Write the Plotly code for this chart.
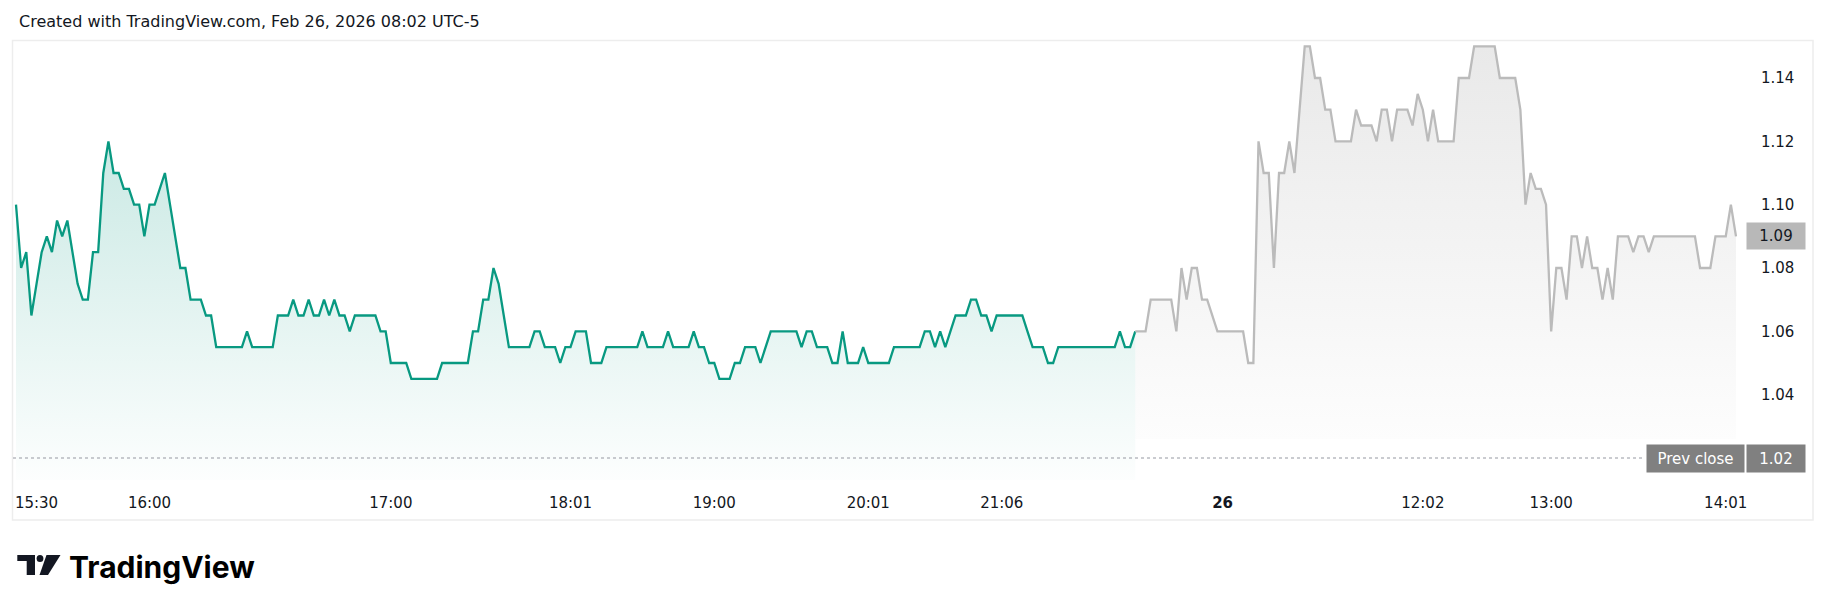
import numpy as np
import plotly.graph_objects as pgo

# prices, one per bar, equally spaced (index axis)
session_prices = [
    1.10, 1.08, 1.085, 1.065, 1.075, 1.085, 1.09, 1.085, 1.095, 1.09,
    1.095, 1.085, 1.075, 1.07, 1.07, 1.085, 1.085, 1.11, 1.12, 1.11,
    1.11, 1.105, 1.105, 1.10, 1.10, 1.09, 1.10, 1.10, 1.105, 1.11,
    1.10, 1.09, 1.08, 1.08, 1.07, 1.07, 1.07, 1.065, 1.065, 1.055,
    1.055, 1.055, 1.055, 1.055, 1.055, 1.06, 1.055, 1.055, 1.055, 1.055,
    1.055, 1.065, 1.065, 1.065, 1.07, 1.065, 1.065, 1.07, 1.065, 1.065,
    1.07, 1.065, 1.07, 1.065, 1.065, 1.06, 1.065, 1.065, 1.065, 1.065,
    1.065, 1.06, 1.06, 1.05, 1.05, 1.05, 1.05, 1.045, 1.045, 1.045,
    1.045, 1.045, 1.045, 1.05, 1.05, 1.05, 1.05, 1.05, 1.05, 1.06,
    1.06, 1.07, 1.07, 1.08, 1.075, 1.065, 1.055, 1.055, 1.055, 1.055,
    1.055, 1.06, 1.06, 1.055, 1.055, 1.055, 1.05, 1.055, 1.055, 1.06,
    1.06, 1.06, 1.05, 1.05, 1.05, 1.055, 1.055, 1.055, 1.055, 1.055,
    1.055, 1.055, 1.06, 1.055, 1.055, 1.055, 1.055, 1.06, 1.055, 1.055,
    1.055, 1.055, 1.06, 1.055, 1.055, 1.05, 1.05, 1.045, 1.045, 1.045,
    1.05, 1.05, 1.055, 1.055, 1.055, 1.05, 1.055, 1.06, 1.06, 1.06,
    1.06, 1.06, 1.06, 1.055, 1.06, 1.06, 1.055, 1.055, 1.055, 1.05,
    1.05, 1.06, 1.05, 1.05, 1.05, 1.055, 1.05, 1.05, 1.05, 1.05,
    1.05, 1.055, 1.055, 1.055, 1.055, 1.055, 1.055, 1.06, 1.06, 1.055,
    1.06, 1.055, 1.06, 1.065, 1.065, 1.065, 1.07, 1.07, 1.065, 1.065,
    1.06, 1.065, 1.065, 1.065, 1.065, 1.065, 1.065, 1.06, 1.055, 1.055,
    1.055, 1.05, 1.05, 1.055, 1.055, 1.055, 1.055, 1.055, 1.055, 1.055,
    1.055, 1.055, 1.055, 1.055, 1.055, 1.06, 1.055, 1.055, 1.06,
]

extended_prices = [
    1.06, 1.06, 1.07, 1.07, 1.07, 1.07, 1.07, 1.06, 1.08, 1.07,
    1.08, 1.08, 1.07, 1.07, 1.065, 1.06, 1.06, 1.06, 1.06, 1.06,
    1.06, 1.05, 1.05, 1.12, 1.11, 1.11, 1.08, 1.11, 1.11, 1.12,
    1.11, 1.13, 1.15, 1.15, 1.14, 1.14, 1.13, 1.13, 1.12, 1.12,
    1.12, 1.12, 1.13, 1.125, 1.125, 1.125, 1.12, 1.13, 1.13, 1.12,
    1.13, 1.13, 1.13, 1.125, 1.135, 1.13, 1.12, 1.13, 1.12, 1.12,
    1.12, 1.12, 1.14, 1.14, 1.14, 1.15, 1.15, 1.15, 1.15, 1.15,
    1.14, 1.14, 1.14, 1.14, 1.13, 1.10, 1.11, 1.105, 1.105, 1.10,
    1.06, 1.08, 1.08, 1.07, 1.09, 1.09, 1.08, 1.09, 1.08, 1.08,
    1.07, 1.08, 1.07, 1.09, 1.09, 1.09, 1.085, 1.09, 1.09, 1.085,
    1.09, 1.09, 1.09, 1.09, 1.09, 1.09, 1.09, 1.09, 1.09, 1.08,
    1.08, 1.08, 1.09, 1.09, 1.09, 1.10, 1.09,
]

prev_close = 1.02

time_tick_bars = [4, 26, 73, 108, 136, 166, 192, 235, 274, 299, 333]
time_tick_labels = ['15:30', '16:00', '17:00', '18:01', '19:00', '20:01',
                    '21:06', '<b>26</b>', '12:02', '13:00', '14:01']
price_ticks = [1.04, 1.06, 1.08, 1.10, 1.12, 1.14]

TITLE = 'Created with TradingView.com, Feb 26, 2026 08:02 UTC-5'

# page geometry in pixels (page coordinates; the html body adds an 8px margin)
W, H = 1830, 611
BODY_MARGIN = 8
PLOT_L, PLOT_R, PLOT_T, PLOT_B = 13, 1745, 41, 480
EXT_FILL_FLOOR = 1.026

GREEN = '#089981'
GREY = '#BBBBBB'
TEXT = '#131722'
FONT = 'DejaVu Sans'


def px(x):
    return (x - PLOT_L) / (PLOT_R - PLOT_L)


def py(y):
    return (PLOT_B - y) / (PLOT_B - PLOT_T)


n_session = len(session_prices)
n_total = n_session + len(extended_prices)
session_x = np.arange(n_session)
ext_x = np.arange(n_session - 1, n_total)
ext_y = [session_prices[-1]] + extended_prices

spacing = (1736 - 16) / (n_total - 1)
x_lo = -(16 - PLOT_L) / spacing
x_hi = (n_total - 1) + (PLOT_R - 1736) / spacing
px_per_unit = (458 - 78) / 0.12
y_hi = 1.14 + (78 - PLOT_T) / px_per_unit
y_lo = prev_close - (PLOT_B - 458) / px_per_unit

fig = pgo.Figure()

# session (green) area, fading out towards the bottom of the pane
fig.add_trace(pgo.Scatter(x=session_x, y=[y_lo] * n_session, mode='lines',
                          line={'width': 0}, hoverinfo='skip'))
fig.add_trace(pgo.Scatter(
    x=session_x, y=session_prices, mode='lines', fill='tonexty',
    line={'color': GREEN, 'width': 2.3},
    fillgradient={'type': 'vertical', 'start': y_lo, 'stop': 1.15,
                  'colorscale': [[0, 'rgba(8,153,129,0.01)'], [1, 'rgba(8,153,129,0.27)']]},
))

# extended hours (grey) area
fig.add_trace(pgo.Scatter(x=ext_x, y=[EXT_FILL_FLOOR] * len(ext_x), mode='lines',
                          line={'width': 0}, hoverinfo='skip'))
fig.add_trace(pgo.Scatter(
    x=ext_x, y=ext_y, mode='lines', fill='tonexty',
    line={'color': GREY, 'width': 2.3},
    fillgradient={'type': 'vertical', 'start': EXT_FILL_FLOOR, 'stop': 1.15,
                  'colorscale': [[0, 'rgba(150,150,150,0.02)'], [1, 'rgba(150,150,150,0.21)']]},
))

fig.update_xaxes(range=[x_lo, x_hi], showgrid=False, zeroline=False, showline=False,
                 tickmode='array', tickvals=time_tick_bars, ticktext=time_tick_labels,
                 ticks='', ticklabelstandoff=12, tickfont={'size': 15, 'color': TEXT})
fig.update_yaxes(range=[y_lo, y_hi], side='right', showgrid=False, zeroline=False,
                 showline=False, tickmode='array', tickvals=price_ticks,
                 ticktext=[f'{v:.2f}' for v in price_ticks],
                 ticks='', ticklabelstandoff=15, tickfont={'size': 15, 'color': TEXT})

shapes = [
    # chart frame
    {'type': 'rect', 'xref': 'paper', 'yref': 'paper', 'layer': 'below',
     'x0': px(12.5), 'x1': px(1813), 'y0': py(520), 'y1': py(40.5),
     'line': {'color': '#EDEDED', 'width': 1.5}},
    # previous close dotted line
    {'type': 'line', 'xref': 'paper', 'yref': 'y', 'x0': 0, 'x1': px(1645),
     'y0': prev_close, 'y1': prev_close,
     'line': {'color': '#9598A1', 'width': 1, 'dash': 'dot'}},
    # TradingView logo glyph
    {'type': 'rect', 'xref': 'paper', 'yref': 'paper', 'x0': px(17.3), 'x1': px(35),
     'y0': py(561), 'y1': py(555), 'fillcolor': TEXT, 'line': {'width': 0}},
    {'type': 'rect', 'xref': 'paper', 'yref': 'paper', 'x0': px(26.7), 'x1': px(35),
     'y0': py(575), 'y1': py(555), 'fillcolor': TEXT, 'line': {'width': 0}},
    {'type': 'circle', 'xref': 'paper', 'yref': 'paper', 'x0': px(36.6), 'x1': px(43.4),
     'y0': py(562), 'y1': py(555), 'fillcolor': TEXT, 'line': {'width': 0}},
    {'type': 'path', 'xref': 'paper', 'yref': 'paper', 'fillcolor': TEXT, 'line': {'width': 0},
     'path': f'M {px(46.5)},{py(555)} L {px(60.5)},{py(555)} L {px(48)},{py(575)} '
             f'L {px(39.5)},{py(575)} Z'},
]

annotations = [
    {'text': TITLE, 'xref': 'paper', 'yref': 'paper', 'x': px(17), 'y': py(21),
     'xanchor': 'left', 'yanchor': 'middle', 'showarrow': False,
     'font': {'family': FONT, 'size': 16, 'color': TEXT}},
    {'text': 'TradingView', 'xref': 'paper', 'yref': 'paper', 'x': px(67), 'y': py(567),
     'xanchor': 'left', 'yanchor': 'middle', 'showarrow': False,
     'font': {'family': 'Inter', 'size': 30, 'weight': 700, 'color': '#000000'}},
    # last price badge
    {'text': f'{extended_prices[-1]:.2f}', 'xref': 'paper', 'yref': 'y',
     'x': px(1776), 'y': extended_prices[-1], 'xanchor': 'center', 'yanchor': 'middle',
     'showarrow': False, 'bgcolor': '#B8B8B8', 'width': 52, 'height': 20, 'borderpad': 3,
     'font': {'family': FONT, 'size': 15, 'color': TEXT}},
    # previous close badge
    {'text': 'Prev close', 'xref': 'paper', 'yref': 'y',
     'x': px(1695.5), 'y': prev_close, 'xanchor': 'center', 'yanchor': 'middle',
     'showarrow': False, 'bgcolor': '#808080', 'width': 91, 'height': 21, 'borderpad': 3,
     'font': {'family': FONT, 'size': 15, 'color': 'white'}},
    {'text': f'{prev_close:.2f}', 'xref': 'paper', 'yref': 'y',
     'x': px(1776), 'y': prev_close, 'xanchor': 'center', 'yanchor': 'middle',
     'showarrow': False, 'bgcolor': '#808080', 'width': 52, 'height': 21, 'borderpad': 3,
     'font': {'family': FONT, 'size': 15, 'color': 'white'}},
]

# the figure sits inside the page body, so shift it back by the body margin
fig_w = W - 2 * BODY_MARGIN
fig_h = H - 2 * BODY_MARGIN
fig.update_layout(
    width=fig_w, height=fig_h,
    margin={'l': PLOT_L - BODY_MARGIN, 'r': fig_w - (PLOT_R - BODY_MARGIN),
            't': PLOT_T - BODY_MARGIN, 'b': fig_h - (PLOT_B - BODY_MARGIN)},
    paper_bgcolor='white', plot_bgcolor='white',
    showlegend=False,
    font={'family': FONT, 'size': 15, 'color': TEXT},
    shapes=shapes,
    annotations=annotations,
)

fig.write_html('out.html')
